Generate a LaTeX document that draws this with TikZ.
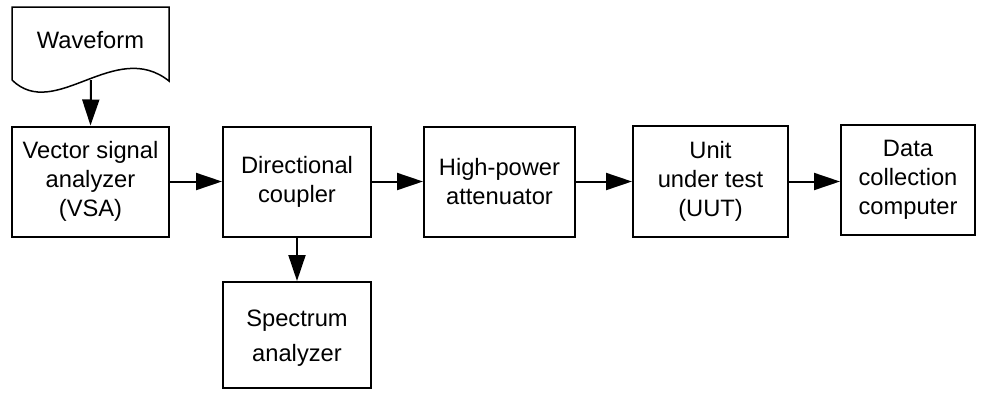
\documentclass[tikz,border=0pt]{standalone}
\usepackage{fontspec}
\setmainfont{Liberation Sans}
\usetikzlibrary{arrows.meta}
\begin{document}
\begin{tikzpicture}[x=1pt,y=-1pt,
  every node/.style={font=\fontsize{23.7}{29}\selectfont},
  blk/.style={draw,line width=2pt,align=center,inner sep=0pt},
  conn/.style={line width=2pt,-{Triangle[length=26pt,width=17pt]}}]
\useasboundingbox (0,0) rectangle (986,392);
\fill[white] (0,0) rectangle (986,392);
% waveform document shape
\draw[line width=1.5pt] (12,80) -- (12,7) -- (169,7) -- (169,81)
  .. controls (115,38) and (55,122) .. (12,80);
\node (wf) at (90.5,40) {Waveform};
\coordinate (wfout) at (91,80);
% blocks
\node[blk,minimum width=157pt,minimum height=110pt] (vsa) at (90.5,181.5) {Vector signal\\analyzer\\(VSA)};
\node[blk,minimum width=148pt,minimum height=110pt] (dc) at (297,181.5) {Directional\\coupler};
\node[blk,minimum width=151pt,minimum height=110pt] (hpa) at (499.5,181.5) {High-power\\attenuator};
\node[blk,minimum width=155pt,minimum height=111pt] (uut) at (710.5,181.5) {Unit\\under test\\(UUT)};
\node[blk,minimum width=134pt,minimum height=110pt] (dcc) at (908,180) {Data\\collection\\computer};
\node[blk,minimum width=148pt,minimum height=106pt] (sa) at (297,335) {\raisebox{0pt}[0pt][0pt]{}\\[-6pt]Spectrum\\[6pt]analyzer};
% connectors
\draw[conn] (wfout) -- (vsa.north);
\draw[conn] (vsa.east) -- (dc.west);
\draw[conn] (dc.east) -- (hpa.west);
\draw[conn] (hpa.east) -- (uut.west);
\draw[conn] (uut.east) -- (dcc.west |- uut.east);
\draw[conn] (dc.south) -- (sa.north);
\end{tikzpicture}
\end{document}
